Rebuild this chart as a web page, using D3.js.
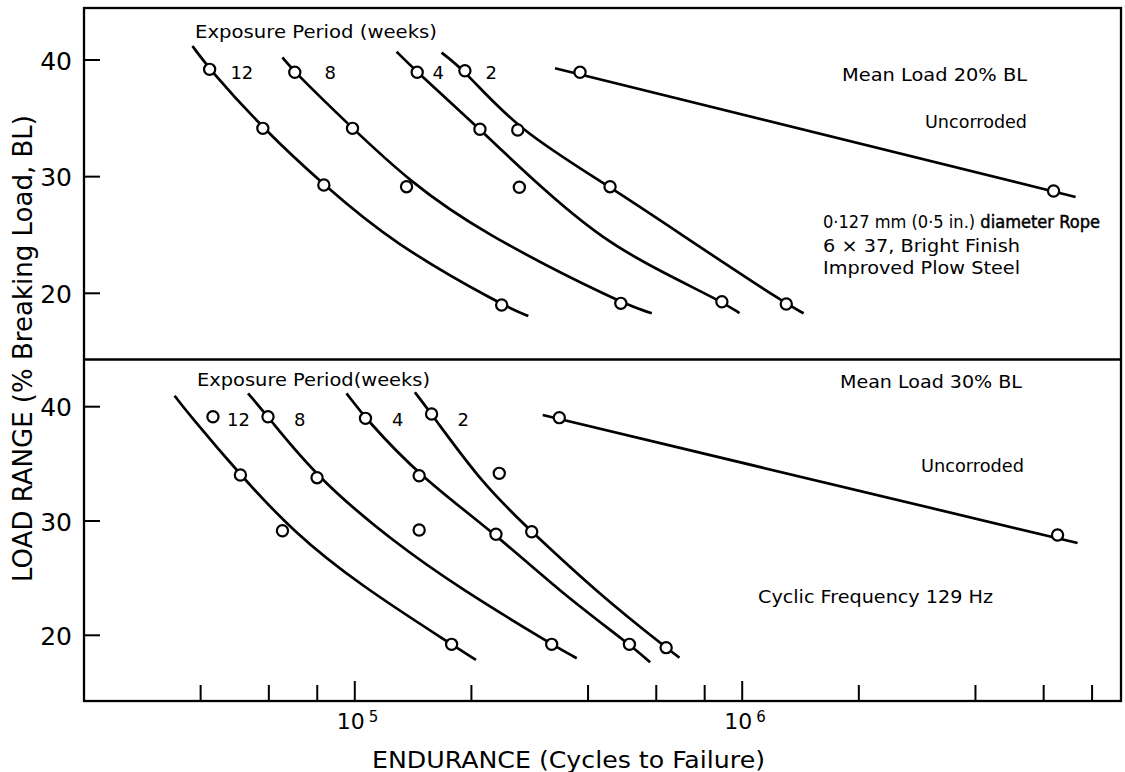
<!DOCTYPE html>
<html><head><meta charset="utf-8">
<script src="https://cdn.jsdelivr.net/npm/d3@7"></script>
<style>html,body{margin:0;padding:0;background:#fff;} svg{display:block;}</style>
</head><body><svg id="c" width="1125" height="772"></svg>
<script>
// ---------- DATA ----------
const weekLabels = ["12", "8", "4", "2"];
const xMinorTicks = [4e4, 6e4, 8e4, 2e5, 4e5, 6e5, 8e5, 2e6, 4e6, 6e6, 8e6];
const xMajorTicks = [1e5, 1e6];
const xMajorExp = ["5", "6"];
const yTicks = [20, 30, 40];

// Upper panel: Mean Load 20% BL  [cycles, load range %BL]
const top12Pts = [[42200,39.2],[57900,34.14],[83200,29.28],[239400,19.0]];
const top8Pts  = [[70000,38.95],[98650,34.14],[136000,29.14],[486000,19.14]];
const top4Pts  = [[144900,38.95],[210400,34.06],[265900,29.09],[886200,19.28]];
const top2Pts  = [[192400,39.08],[263400,34.0],[455900,29.14],[1299300,19.08]];
const topUncPts = [[381400,38.95],[6363000,28.77]];

const top12Curve = [[38100,41.2],[42200,39.2],[57900,34.14],[83200,29.28],[125400,24.29],[239400,19.0],[280500,18.05]];
const top8Curve  = [[65050,40.23],[70000,38.95],[98650,34.14],[138700,29.57],[210400,25.28],[486000,19.14],[584300,18.29]];
const top4Curve  = [[128200,40.71],[144900,38.95],[210400,34.06],[300600,29.14],[438100,24.57],[626100,21.74],[886200,19.28],[984000,18.3]];
const top2Curve  = [[167500,40.63],[192400,39.08],[263400,34.0],[455900,29.14],[763600,24.14],[1299300,19.08],[1440500,18.29]];
const topUncCurve = [[328700,39.29],[7254000,28.26]];
const topLabelN = [51100, 86400, 164200, 225000];

// Lower panel: Mean Load 30% BL
const bot12Pts = [[43040,39.12],[50670,34.02],[65050,29.15],[177800,19.21]];
const bot8Pts  = [[59700,39.12],[79910,33.79],[146600,29.21],[322300,19.21]];
const bot4Pts  = [[106560,38.98],[146600,33.96],[231400,28.84],[511500,19.21]];
const bot2Pts  = [[157840,39.36],[236000,34.17],[286190,29.06],[636300,18.92]];
const botUncPts = [[337200,39.04],[6516000,28.78]];

const bot12Curve = [[34260,40.96],[37460,39.27],[50670,34.02],[69280,29.06],[103000,24.4],[177800,19.21],[205500,17.84]];
const bot8Curve  = [[53010,41.17],[59700,39.12],[79910,33.79],[125600,28.19],[186800,24.11],[322300,19.21],[374050,17.99]];
const bot4Curve  = [[95190,41.17],[106560,38.98],[146600,33.96],[231400,28.84],[338600,23.81],[511500,19.21],[578500,17.64]];
const bot2Curve  = [[142900,41.26],[157840,39.36],[214550,33.15],[286190,29.06],[429580,23.53],[636300,18.92],[688650,18.04]];
const botUncCurve = [[305500,39.27],[7340000,28.07]];
const botLabelN = [50100, 72100, 129100, 190500];

// ---------- LAYOUT ----------
const FONT = "'DejaVu Sans', sans-serif";
const svg = d3.select("#c");
svg.append("rect").attr("width",1125).attr("height",772).attr("fill","#fff");

const x = d3.scaleLog().domain([2e4, 9.5e6]).range([84, 1121]);
const yTop = d3.scaleLinear().domain([20, 40]).range([293.3, 60]);
const yBot = d3.scaleLinear().domain([20, 40]).range([635.3, 406.7]);
const frameL = x(2e4), frameR = x(9.5e6), frameT = 8, frameMid = 359.5, frameB = 701;

function txt(str, xx, yy, size, opts = {}) {
  const t = svg.append("text").attr("x", xx).attr("y", yy)
    .attr("font-family", FONT).attr("font-size", size).attr("fill", "#000")
    .attr("text-anchor", opts.anchor || "start").text(str);
  if (opts.len) t.attr("textLength", opts.len).attr("lengthAdjust", opts.adj || "spacingAndGlyphs");
  if (opts.transform) t.attr("transform", opts.transform);
  return t;
}

// frame
svg.append("rect").attr("x", frameL).attr("y", frameT).attr("width", frameR - frameL)
  .attr("height", frameB - frameT).attr("fill", "none").attr("stroke", "#000").attr("stroke-width", 2.3);
svg.append("line").attr("x1", frameL).attr("x2", frameR).attr("y1", frameMid).attr("y2", frameMid)
  .attr("stroke", "#000").attr("stroke-width", 2.3);

// y ticks both panels
[yTop, yBot].forEach(ys => {
  yTicks.forEach(v => {
    svg.append("line").attr("x1", frameL).attr("x2", frameL + 16)
      .attr("y1", ys(v)).attr("y2", ys(v)).attr("stroke", "#000").attr("stroke-width", 2);
    txt(String(v), 72, ys(v) + 9.5, 25, {anchor: "end"});
  });
});

// x ticks (bottom axis)
xMinorTicks.forEach(v => {
  svg.append("line").attr("x1", x(v)).attr("x2", x(v)).attr("y1", frameB).attr("y2", frameB - 16)
    .attr("stroke", "#000").attr("stroke-width", 2);
});
xMajorTicks.forEach((v, i) => {
  svg.append("line").attr("x1", x(v)).attr("x2", x(v)).attr("y1", frameB).attr("y2", frameB - 20)
    .attr("stroke", "#000").attr("stroke-width", 2);
  const t = svg.append("text").attr("x", x(v) - 18).attr("y", 729)
    .attr("font-family", FONT).attr("font-size", 22);
  t.append("tspan").text("10");
  t.append("tspan").attr("font-size", 15).attr("dy", -7).attr("dx", 4).text(xMajorExp[i]);
});

// axis titles
txt("ENDURANCE (Cycles to Failure)", 372, 768, 22.5, {len: 393});
txt("LOAD RANGE (% Breaking Load, BL)", 0, 0, 26.5,
    {anchor: "middle", len: 467, transform: "translate(32,348.5) rotate(-90)"});

// curves & points
const panels = [
  {y: yTop, curves: [top12Curve, top8Curve, top4Curve, top2Curve, topUncCurve],
   pts: [top12Pts, top8Pts, top4Pts, top2Pts, topUncPts], labelN: topLabelN},
  {y: yBot, curves: [bot12Curve, bot8Curve, bot4Curve, bot2Curve, botUncCurve],
   pts: [bot12Pts, bot8Pts, bot4Pts, bot2Pts, botUncPts], labelN: botLabelN}
];
panels.forEach(p => {
  const line = d3.line().x(d => x(d[0])).y(d => p.y(d[1])).curve(d3.curveBasis);
  p.curves.forEach(c => {
    svg.append("path").attr("d", line(c)).attr("fill", "none")
      .attr("stroke", "#000").attr("stroke-width", 2.7).attr("stroke-linecap", "butt");
  });
  p.pts.forEach(s => {
    svg.selectAll(null).data(s).enter().append("circle")
      .attr("cx", d => x(d[0])).attr("cy", d => p.y(d[1])).attr("r", 5.6)
      .attr("fill", "#fff").attr("stroke", "#000").attr("stroke-width", 2.2);
  });
  weekLabels.forEach((w, i) => {
    txt(w, x(p.labelN[i]), p.y(39) + 7.5, 18, {anchor: "middle"});
  });
});

// annotations – upper panel
txt("Exposure Period (weeks)", 195, 38, 17.5, {len: 242});
txt("Mean Load 20% BL", 842, 81, 18.5, {len: 185});
txt("Uncorroded", 925, 128, 18.5, {len: 102});
const t1 = svg.append("text").attr("x", 823).attr("y", 228).attr("font-family", FONT)
  .attr("font-size", 17.5).attr("textLength", 277).attr("lengthAdjust", "spacingAndGlyphs");
t1.append("tspan").text("0·127 mm (0·5 in.) ");
t1.append("tspan").attr("stroke", "#000").attr("stroke-width", 0.5).text("diameter Rope");
txt("6 × 37, Bright Finish", 823, 252, 17.5, {len: 197});
txt("Improved Plow Steel", 823, 274, 17.5, {len: 197});

// annotations – lower panel
txt("Exposure Period(weeks)", 197, 386, 17.5, {len: 233});
txt("Mean Load 30% BL", 840, 388, 18.5, {len: 182});
txt("Uncorroded", 921, 472, 18.5, {len: 103});
txt("Cyclic Frequency 129 Hz", 758, 603, 18, {len: 235});
</script></body></html>
